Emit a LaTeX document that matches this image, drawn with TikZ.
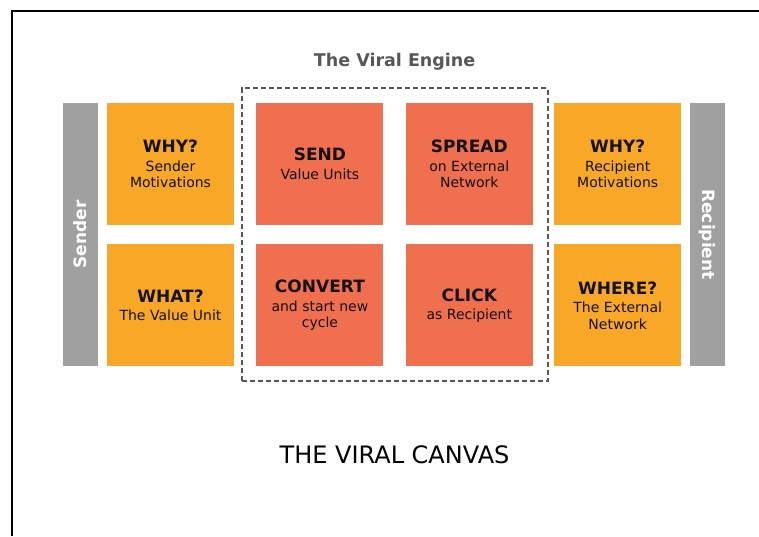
\documentclass[tikz,border=0pt]{standalone}
\usepackage{fontspec}
\setmainfont{DejaVu Sans}
\usepackage{tikz}
\usetikzlibrary{positioning, fit}

\definecolor{cellorange}{HTML}{F9A727}
\definecolor{cellred}{HTML}{EF6F4E}
\definecolor{sidegray}{HTML}{A0A0A0}
\definecolor{framegray}{HTML}{575757}

\begin{document}
\begin{tikzpicture}[
      x=1pt, y=-1pt,
      node distance=19pt and 22pt,
      cell/.style={rectangle, minimum width=127pt, minimum height=122pt,
        inner sep=0pt, align=center, text=black!93,
        font=\fontsize{14}{16.5}\selectfont},
      why/.style={cell, fill=cellorange},
      engine/.style={cell, fill=cellred},
      side/.style={rectangle, fill=sidegray, minimum width=35pt,
        minimum height=263pt, inner sep=0pt},
      sidetext/.style={text=white, font=\fontsize{17}{20}\selectfont\bfseries}
    ]
    \useasboundingbox (0,0) rectangle (759,536);
    \draw[line width=2.5pt] (12,536) -- (12,11) -- (759,11);

    % sender side
    \node [why] (whys) at (170.5,164) {{\fontsize{17}{17}\selectfont\bfseries WHY?}\\[2pt] Sender\\ Motivations};
    \node [why, below=of whys] (whats) {{\fontsize{17}{17}\selectfont\bfseries WHAT?}\\[2pt] The Value Unit};
    \node [side, left=9pt of whys.north west, anchor=north east] (sender) {};
    \node [sidetext, rotate=90] (sendlbl) at (sender) {Sender};

    % the engine
    \node [engine, right=of whys] (send) {{\fontsize{17}{17}\selectfont\bfseries SEND}\\[2pt] Value Units};
    \node [engine, right=of send] (spread) {{\fontsize{17}{17}\selectfont\bfseries SPREAD}\\[2pt] on External\\ Network};
    \node [engine, below=of send] (convert) {{\fontsize{17}{17}\selectfont\bfseries CONVERT}\\[2pt] and start new\\ cycle};
    \node [engine, below=of spread] (click) {{\fontsize{17}{17}\selectfont\bfseries CLICK}\\[2pt] as Recipient};
    \node [draw=framegray, dash pattern=on 5pt off 3pt, line width=2pt,
      fit=(send)(click), inner sep=14.5pt] (frame) {};
    \node [above=13pt of frame, text=framegray, font=\fontsize{17.5}{17.5}\selectfont\bfseries] (enginelbl) {The Viral Engine};

    % recipient side
    \node [why, right=21pt of spread] (whyr) {{\fontsize{17}{17}\selectfont\bfseries WHY?}\\[2pt] Recipient\\ Motivations};
    \node [why, below=of whyr] (where) {{\fontsize{17}{17}\selectfont\bfseries WHERE?}\\[2pt] The External\\ Network};
    \node [side, right=8pt of whyr.north east, anchor=north west] (recipient) {};
    \node [sidetext, rotate=-90] (reclbl) at (recipient) {Recipient};

    \node [font=\fontsize{24}{24}\selectfont] (canvas) at (394.5,455) {THE VIRAL CANVAS};
\end{tikzpicture}
\end{document}
